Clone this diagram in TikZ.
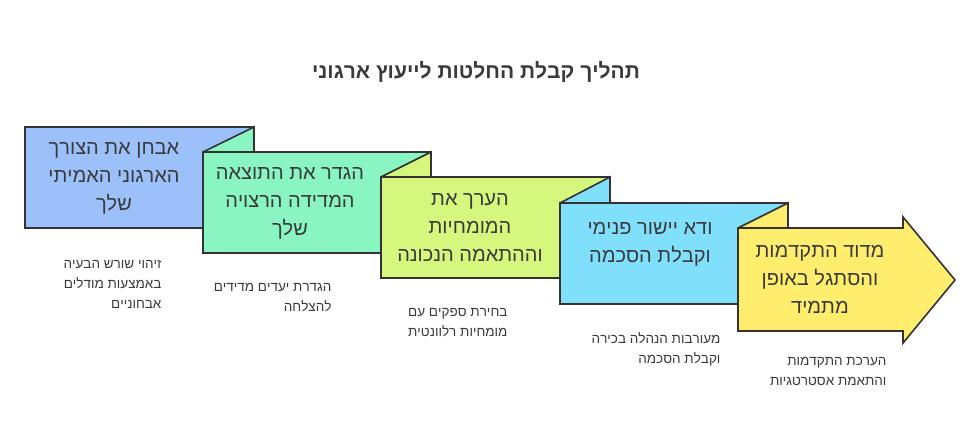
\documentclass[tikz,border=0pt]{standalone}
\usepackage{fontspec}
\setmainfont{Liberation Sans}
\TeXXeTstate=1
\newcommand{\RL}[1]{\beginR #1\endR}
\definecolor{ctext}{HTML}{3A3A3A}
\definecolor{cb}{HTML}{9CC0FA}
\definecolor{cg}{HTML}{88F5C2}
\definecolor{cl}{HTML}{D5F77E}
\definecolor{cc}{HTML}{80DFFB}
\definecolor{cy}{HTML}{FFEE6E}
\begin{document}
\begin{tikzpicture}[x=1pt,y=-1pt,
  shp/.style={draw=black!80,line width=1.6pt,line join=miter},
  boxtxt/.style={text=ctext,font=\fontsize{20}{28}\selectfont,align=center},
  desc/.style={text=ctext,font=\fontsize{13.5}{20}\selectfont,align=right,anchor=north east}]
\useasboundingbox (0,0) rectangle (980,445);
\node[font=\bfseries\fontsize{21}{26}\selectfont,text=ctext] (title) at (476,72) {\RL{תהליך קבלת החלטות לייעוץ ארגוני}};
% box 1
\draw[shp,fill=cb] (25,127) rectangle (254,228);
% box 2
\fill[cg] (203,152) -- (254,127) -- (254,152) -- cycle;
\draw[shp] (203,152) -- (254,127) -- (254,152);
\draw[shp,fill=cg] (203,152) rectangle (431,253);
% box 3
\fill[cl] (381,177) -- (431,152) -- (431,177) -- cycle;
\draw[shp] (381,177) -- (431,152) -- (431,177);
\draw[shp,fill=cl] (381,177) rectangle (609,278);
% box 4
\fill[cc] (560,203) -- (610,177) -- (610,203) -- cycle;
\draw[shp] (560,203) -- (610,177) -- (610,203);
\draw[shp,fill=cc] (560,203) rectangle (788,304);
% box 5 arrow
\fill[cy] (738,228) -- (788,203) -- (788,228) -- cycle;
\draw[shp] (738,228) -- (788,203) -- (788,228);
\draw[shp,fill=cy] (738,228) -- (903,228) -- (903,217) -- (955,280) -- (903,343) -- (903,331) -- (738,331) -- cycle;
\node[boxtxt] (t1) at (114,178) {\RL{אבחן את הצורך}\\\RL{הארגוני האמיתי}\\\RL{שלך}};
\node[boxtxt] (t2) at (290,203) {\RL{הגדר את התוצאה}\\\RL{המדידה הרצויה}\\\RL{שלך}};
\node[boxtxt] (t3) at (470,228) {\RL{הערך את}\\\RL{המומחיות}\\\RL{וההתאמה הנכונה}};
\node[boxtxt] (t4) at (650,244) {\RL{ודא יישור פנימי}\\\RL{וקבלת הסכמה}};
\node[boxtxt] (t5) at (820,279) {\RL{מדוד התקדמות}\\\RL{והסתגל באופן}\\\RL{מתמיד}};
\node[desc] (d1) at (165,257) {\RL{זיהוי שורש הבעיה}\\\RL{באמצעות מודלים}\\\RL{אבחוניים}};
\node[desc] (d2) at (335,280) {\RL{הגדרת יעדים מדידים}\\\RL{להצלחה}};
\node[desc] (d3) at (511,305) {\RL{בחירת ספקים עם}\\\RL{מומחיות רלוונטית}};
\node[desc] (d4) at (724,329) {\RL{מעורבות הנהלה בכירה}\\\RL{וקבלת הסכמה}};
\node[desc] (d5) at (890,354) {\RL{הערכת התקדמות}\\\RL{והתאמת אסטרטגיות}};
\end{tikzpicture}
\end{document}
